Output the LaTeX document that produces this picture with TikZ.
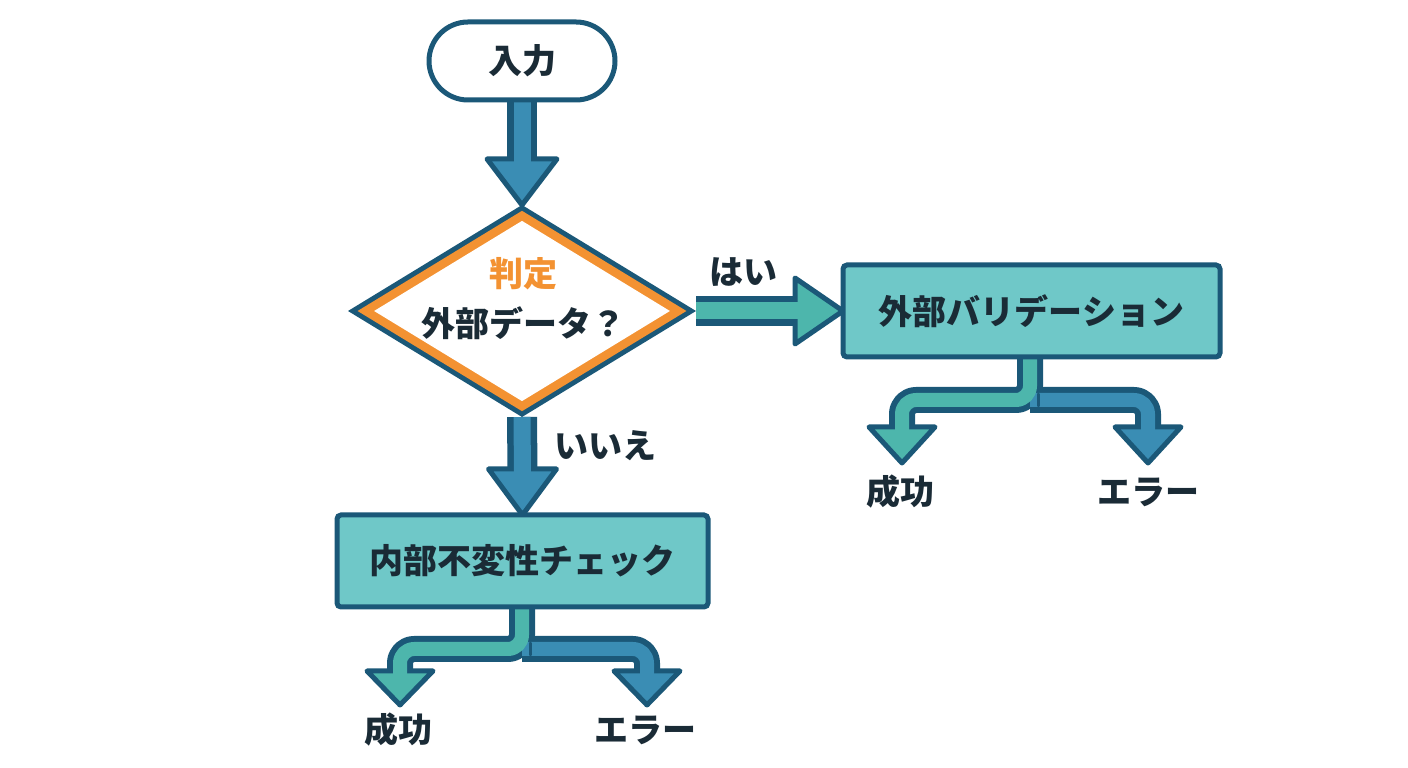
\documentclass[tikz,border=0pt]{standalone}
\usepackage{fontspec}
\newfontfamily\jp{Noto Sans CJK JP}
\usetikzlibrary{calc,shapes.geometric}
\definecolor{dk}{HTML}{1B5878}
\definecolor{boxc}{HTML}{6FC8C8}
\definecolor{tealA}{HTML}{4DB6AC}
\definecolor{blueA}{HTML}{3A8DB4}
\definecolor{orA}{HTML}{F39232}
\definecolor{txt}{HTML}{1A2B36}
\pgfdeclarelayer{arr}
\pgfsetlayers{arr,main}
\begin{document}
\begin{tikzpicture}[x=1pt,y=1pt,
  jpf/.style={font=\jp\bfseries\fontsize{34}{40}\selectfont, text=txt},
  lbl/.style={jpf, inner sep=0},
  procbox/.style={jpf, draw=dk, line width=5, fill=boxc, rounded corners=4, outer sep=0, minimum height=92},
  termbox/.style={jpf, draw=dk, line width=5, fill=white, rounded corners=39, outer sep=0, minimum height=78},
  shaftout/.style={dk, line width=30},
  shaftin/.style={line width=17},
  brout/.style={dk, line width=26, rounded corners=14, line join=round},
  brin/.style={line width=14, rounded corners=14, line join=round},
  headst/.style={draw=dk, line width=5, line join=round}
]
\useasboundingbox (0,0) rectangle (1408,768);
\begin{pgfonlayer}{arr}
\fill[white] (0,0) rectangle (1408,768);
\end{pgfonlayer}

% nodes
\node[termbox, minimum width=186] (in) at (522,707) {入力};
\node[shape=diamond, minimum width=348, minimum height=212, inner sep=0, outer sep=0] (dec) at (522,457) {};
\node[procbox, minimum width=377] (ext) at (1031.5,457) {外部バリデーション};
\node[procbox, minimum width=371] (int) at (522.5,207) {内部不変性チェック};

% diamond drawing
\fill[dk] (dec.north) -- (dec.east) -- (dec.south) -- (dec.west) -- cycle;
\fill[orA] ($(dec.center)!0.945!(dec.north)$) -- ($(dec.center)!0.945!(dec.east)$) -- ($(dec.center)!0.945!(dec.south)$) -- ($(dec.center)!0.945!(dec.west)$) -- cycle;
\fill[white] ($(dec.center)!0.85!(dec.north)$) -- ($(dec.center)!0.85!(dec.east)$) -- ($(dec.center)!0.85!(dec.south)$) -- ($(dec.center)!0.85!(dec.west)$) -- cycle;
\node[lbl, align=center, font=\jp\bfseries\fontsize{34}{50}\selectfont] (dect) at (523,469) {{\color{orA}判定}\\外部データ？};

% labels
\node[lbl] (yes) at (743,496) {はい};
\node[lbl] (no) at (605,322) {いいえ};
\node[lbl] (eok) at (900,276) {成功};
\node[lbl] (eerr) at (1148,276) {エラー};
\node[lbl] (iok) at (398,38) {成功};
\node[lbl] (ierr) at (645,38) {エラー};

\coordinate (eS) at (902,305);
\coordinate (eE) at (1148,305);
\coordinate (iS) at (400,63);
\coordinate (iE) at (647,63);
\coordinate (ej) at ($(ext.south)+(-1.5,-43)$);
\coordinate (ij) at ($(int.south)+(-0.5,-42)$);

\begin{pgfonlayer}{arr}
% input -> decision
\draw[shaftout] (in.south) -- ($(dec.north)+(0,44)$);
\draw[headst, fill=blueA] ($(dec.north)+(-35,46)$) -- (dec.north) -- ($(dec.north)+(35,46)$) -- cycle;
\draw[shaftin, blueA] (in.south) -- ($(dec.north)+(0,40)$);
% decision -> internal (no)
\draw[shaftout] (dec.south) -- ($(int.north)+(0,44)$);
\draw[headst, fill=blueA] ($(int.north)+(-34,46)$) -- (int.north) -- ($(int.north)+(34,46)$) -- cycle;
\draw[shaftin, blueA] (dec.south) -- ($(int.north)+(0,40)$);
% decision -> external (yes)
\draw[shaftout] (dec.east) -- ($(ext.west)+(-46,0)$);
\draw[headst, fill=tealA] ($(ext.west)+(-48,33)$) -- (ext.west) -- ($(ext.west)+(-48,-33)$) -- cycle;
\draw[shaftin, tealA] (dec.east) -- ($(ext.west)+(-42,0)$);

% external branch
\draw[brout] ($(ext.south)+(-1.5,0)$) -- (ej) -| ($(eS)+(0,34)$);
\draw[brout] (ej) -| ($(eE)+(0,34)$);
\draw[headst, fill=tealA] ($(eS)+(-33,36)$) -- (eS) -- ($(eS)+(33,36)$) -- cycle;
\draw[headst, fill=blueA] ($(eE)+(-33,36)$) -- (eE) -- ($(eE)+(33,36)$) -- cycle;
\draw[brin, blueA] (ej) -| ($(eE)+(0,31)$);
\draw[brin, tealA] ($(ext.south)+(-1.5,0)$) -- (ej) -| ($(eS)+(0,31)$);
\draw[dk, line width=3, line cap=round] ($(ej)+(8.5,6)$) -- ($(ej)+(8.5,-6)$);

% internal branch
\draw[brout] ($(int.south)+(-0.5,0)$) -- (ij) -| ($(iS)+(0,32)$);
\draw[brout] (ij) -| ($(iE)+(0,32)$);
\draw[headst, fill=tealA] ($(iS)+(-33,34)$) -- (iS) -- ($(iS)+(33,34)$) -- cycle;
\draw[headst, fill=blueA] ($(iE)+(-33,34)$) -- (iE) -- ($(iE)+(33,34)$) -- cycle;
\draw[brin, blueA] (ij) -| ($(iE)+(0,29)$);
\draw[brin, tealA] ($(int.south)+(-0.5,0)$) -- (ij) -| ($(iS)+(0,29)$);
\draw[dk, line width=3, line cap=round] ($(ij)+(8.5,6)$) -- ($(ij)+(8.5,-6)$);
\end{pgfonlayer}
\end{tikzpicture}
\end{document}
